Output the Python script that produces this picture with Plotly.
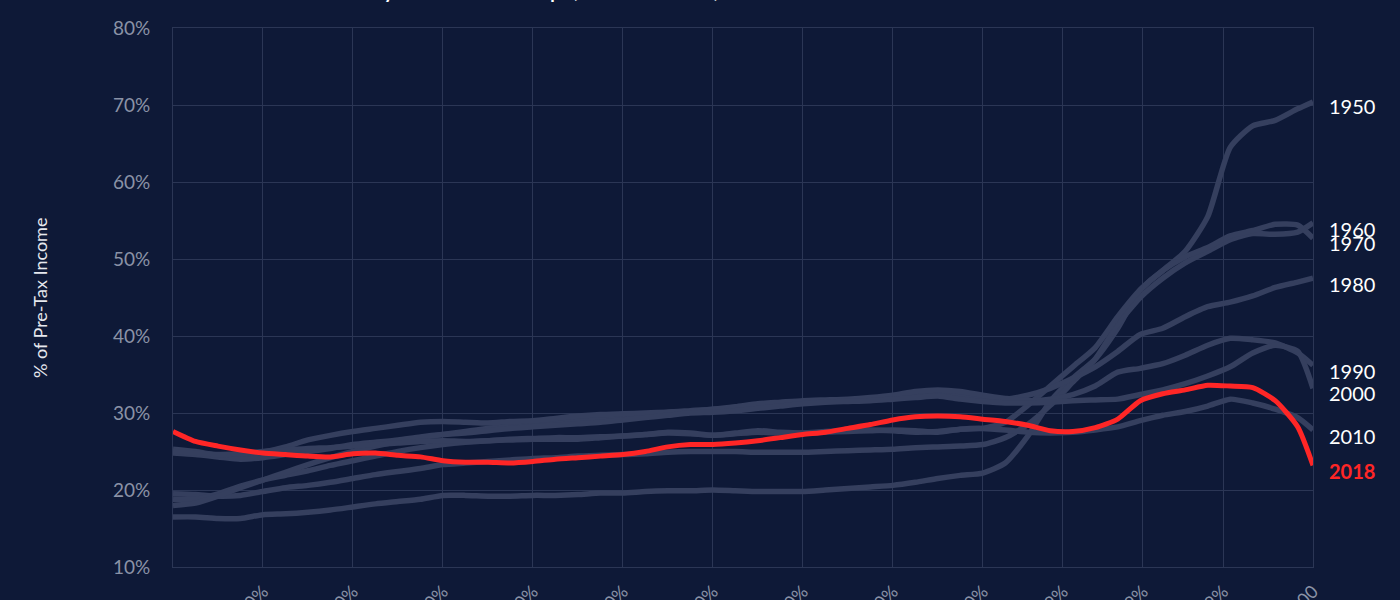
import plotly.graph_objects as go

# ---------------- data ----------------
# x positions along the income-group axis (axis units; ticks below)
x_pos = [0, 2.5, 5, 7.5, 10, 12.5, 15, 17.5, 20, 22.5, 25, 27.5, 30, 32.5, 35, 37.5,
         40, 42.5, 45, 47.5, 50, 52.5, 55, 57.5, 60, 62.5, 65, 67.5, 70, 72.5, 75, 77.5,
         80, 82.5, 85, 87.5, 90, 92.5, 95, 97.5, 100, 102.5, 105, 107.5, 110, 112.5,
         115, 117.5, 120, 122.5, 125, 126.7]

tick_vals = [10, 20, 30, 40, 50, 60, 70, 80, 90, 98.9, 107.8, 116.7, 126.7]
tick_text = ["10%", "20%", "30%", "40%", "50%", "60%", "70%", "80%", "90%",
             "99%", "99.9%", "99.99%", "Top 400"]

y_1950 = [16.5, 16.5, 16.3, 16.3, 16.8, 16.9, 17.1, 17.4, 17.8, 18.2, 18.5, 18.8, 19.3, 19.3,
          19.2, 19.2, 19.3, 19.3, 19.4, 19.6, 19.6, 19.8, 19.9, 19.9, 20.0, 19.9, 19.8, 19.8,
          19.8, 20.0, 20.2, 20.4, 20.6, 21.0, 21.5, 21.9, 22.2, 23.5, 27.0, 31.5, 34.5, 37.0,
          41.0, 46.0, 48.5, 51.0, 55.5, 64.5, 67.3, 68.0, 69.5, 70.4]

y_1960 = [19.5, 19.4, 19.2, 19.3, 19.8, 20.3, 20.6, 21.0, 21.5, 22.0, 22.4, 22.8, 23.3, 23.5,
          23.7, 23.9, 24.1, 24.2, 24.4, 24.5, 24.6, 24.7, 24.9, 25.0, 25.0, 25.0, 24.9, 24.9,
          24.9, 25.0, 25.1, 25.2, 25.3, 25.5, 25.6, 25.7, 25.9, 26.8, 28.5, 31.0, 34.0, 37.0,
          41.5, 45.0, 47.5, 49.5, 51.0, 52.5, 53.3, 53.2, 53.5, 54.7]

y_1970 = [18.8, 18.8, 19.5, 20.5, 21.3, 21.9, 22.5, 23.2, 23.8, 24.4, 25.0, 25.5, 25.9, 26.2,
          26.4, 26.5, 26.6, 26.6, 26.6, 26.8, 27.0, 27.2, 27.4, 27.3, 27.1, 27.3, 27.5, 27.4,
          27.4, 27.6, 27.7, 27.8, 27.7, 27.5, 27.6, 27.9, 28.0, 28.8, 31.0, 33.5, 36.0, 38.5,
          42.5, 46.0, 48.5, 50.3, 51.5, 53.0, 53.7, 54.5, 54.4, 52.7]

y_1980 = [18.0, 18.3, 19.2, 20.3, 21.3, 22.3, 23.3, 24.2, 25.0, 25.7, 26.3, 26.8, 27.2, 27.6,
          28.0, 28.3, 28.6, 28.9, 29.1, 29.4, 29.6, 29.8, 30.1, 30.3, 30.5, 30.6, 30.8, 31.1,
          31.3, 31.5, 31.7, 31.9, 32.1, 32.3, 32.5, 32.3, 31.9, 31.8, 32.3, 33.2, 34.5, 36.0,
          38.0, 40.2, 41.0, 42.5, 43.8, 44.4, 45.2, 46.3, 47.0, 47.5]

y_1990 = [25.3, 25.0, 24.5, 24.4, 24.9, 25.6, 26.5, 27.1, 27.6, 28.0, 28.4, 28.8, 28.9, 28.8,
          28.7, 28.9, 29.0, 29.3, 29.6, 29.8, 29.9, 30.0, 30.1, 30.2, 30.5, 30.8, 31.2, 31.4,
          31.6, 31.7, 31.8, 32.0, 32.3, 32.8, 33.0, 32.8, 32.3, 31.9, 31.6, 31.8, 32.4, 33.5,
          35.3, 35.8, 36.4, 37.5, 38.8, 39.7, 39.5, 39.1, 37.8, 36.2]

y_2000 = [24.8, 24.6, 24.3, 24.0, 24.2, 24.6, 25.0, 25.4, 25.9, 26.2, 26.5, 26.9, 27.2, 27.4,
          27.7, 28.0, 28.2, 28.4, 28.6, 28.8, 29.1, 29.4, 29.7, 30.0, 30.1, 30.3, 30.6, 30.9,
          31.2, 31.4, 31.5, 31.6, 31.8, 32.0, 32.2, 31.8, 31.5, 31.3, 31.3, 31.4, 31.6, 31.7,
          31.8, 32.4, 33.0, 33.8, 34.8, 36.0, 37.8, 38.8, 38.0, 33.2]

y_2010 = [25.0, 24.8, 24.6, 24.7, 25.0, 25.2, 25.4, 25.5, 25.7, 25.9, 26.1, 26.3, 26.4, 26.3,
          26.4, 26.6, 26.7, 26.8, 26.8, 26.9, 27.0, 27.2, 27.5, 27.4, 27.1, 27.4, 27.7, 27.5,
          27.4, 27.5, 27.6, 27.7, 27.8, 27.7, 27.5, 27.9, 28.0, 27.8, 27.5, 27.4, 27.5, 27.8,
          28.2, 29.0, 29.7, 30.2, 30.9, 31.8, 31.3, 30.5, 29.4, 27.8]

y_2018 = [27.6, 26.3, 25.7, 25.2, 24.8, 24.6, 24.4, 24.3, 24.7, 24.8, 24.5, 24.3, 23.8, 23.6,
          23.6, 23.5, 23.7, 24.0, 24.2, 24.4, 24.6, 25.0, 25.6, 25.9, 25.9, 26.1, 26.4, 26.8,
          27.2, 27.5, 28.0, 28.5, 29.1, 29.5, 29.6, 29.5, 29.2, 28.9, 28.4, 27.7, 27.6, 28.1,
          29.2, 31.6, 32.5, 33.0, 33.6, 33.5, 33.3, 31.6, 28.2, 23.2]

gray_series = [("1950", y_1950), ("1960", y_1960), ("1970", y_1970), ("1980", y_1980),
               ("1990", y_1990), ("2000", y_2000), ("2010", y_2010)]

# ---------------- style ----------------
BG = "#0e1937"
GRID = "#2b3655"
GRAY_LINE = "#353f5e"
RED = "#ff2626"
TICK_COLOR = "#8a92a6"
FONT = "Lato, Noto Sans, sans-serif"

# label vertical nudges (pixels) to keep end labels apart
label_shift = {"1950": -4, "1960": -6, "1970": -5, "1980": -6,
               "1990": -6, "2000": -5, "2010": -6, "2018": -6}

fig = go.Figure()

for name, ys in gray_series:
    fig.add_trace(go.Scatter(
        x=x_pos, y=ys, mode="lines", name=name,
        line=dict(color=GRAY_LINE, width=5.5, shape="spline", smoothing=0.6),
        hoverinfo="skip", showlegend=False))

fig.add_trace(go.Scatter(
    x=x_pos, y=y_2018, mode="lines", name="2018",
    line=dict(color=RED, width=5, shape="spline", smoothing=0.6),
    hoverinfo="skip", showlegend=False))

for name, ys in gray_series + [("2018", y_2018)]:
    is_red = name == "2018"
    fig.add_annotation(
        x=x_pos[-1], y=ys[-1], xref="x", yref="y",
        text=f"<b>{name}</b>" if is_red else name,
        showarrow=False, xanchor="left", yanchor="middle",
        xshift=14, yshift=label_shift[name],
        font=dict(family=FONT, size=20, color=RED if is_red else "#ffffff"))

# y-axis title as rotated annotation
fig.add_annotation(
    text="% of Pre-Tax Income", textangle=-90,
    xref="paper", yref="paper", x=-0.117, y=0.5,
    xanchor="center", yanchor="middle", showarrow=False,
    font=dict(family=FONT, size=18, color="#e6e8ee"))

# chart title (sits mostly above the visible area, as in the reference)
fig.add_annotation(
    text="Total Tax Rates by Income Group (1950–2018)",
    xref="paper", yref="paper", x=0.016, y=1.0,
    xanchor="left", yanchor="bottom", yshift=23, showarrow=False,
    font=dict(family=FONT, size=26, color="#ffffff"))

fig.update_layout(
    width=1400, height=600,
    paper_bgcolor=BG, plot_bgcolor=BG,
    margin=dict(l=173, r=87, t=28, b=33, autoexpand=False),
    font=dict(family=FONT, color=TICK_COLOR),
    showlegend=False,
)

fig.update_xaxes(
    range=[0, 126.7], tickmode="array", tickvals=tick_vals, ticktext=tick_text,
    tickangle=-45, showgrid=True, gridcolor=GRID, gridwidth=1, automargin=False,
    zeroline=False, showline=True, linecolor=GRID, linewidth=1, mirror=True,
    tickfont=dict(family=FONT, size=18, color=TICK_COLOR), ticks="",
    ticklabelstandoff=6,
)
fig.update_yaxes(
    range=[10, 80], tickmode="linear", tick0=10, dtick=10, ticksuffix="%",
    showgrid=True, gridcolor=GRID, gridwidth=1, automargin=False,
    zeroline=False, showline=True, linecolor=GRID, linewidth=1, mirror=True,
    tickfont=dict(family=FONT, size=19, color=TICK_COLOR), ticks="",
    ticklabelstandoff=18,
)

fig.write_html(
    "out.html",
    config={"displayModeBar": False},
    post_script="document.body.style.margin='0';document.body.style.background='%s';" % BG,
)
